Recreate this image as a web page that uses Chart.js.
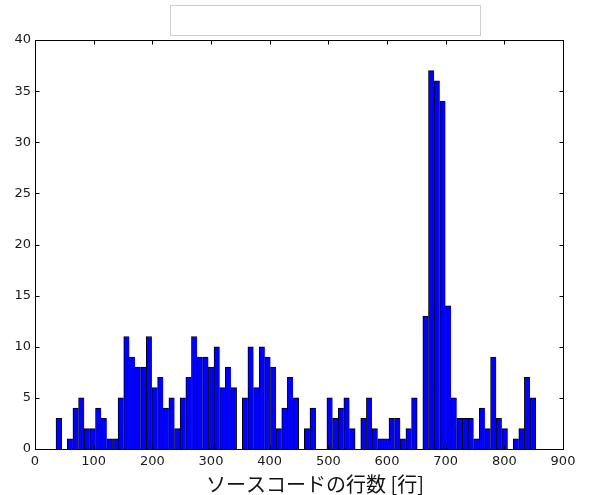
<!DOCTYPE html>
<html>
<head>
<meta charset="utf-8">
<script src="https://cdn.jsdelivr.net/npm/chart.js@4/dist/chart.umd.min.js"></script>
<style>
  html, body { margin: 0; padding: 0; background: #fff; }
</style>
</head>
<body>
<canvas id="chart" width="590" height="495"></canvas>
<script>
// histogram bins (uniform width), counts
const binStart = 35.8;
const binWidth = 9.62;
const counts = [
  3, 0, 1, 4, 5, 2, 2, 4, 3, 1,
  1, 5, 11, 9, 8, 8, 11, 6, 7, 4,
  5, 2, 5, 7, 11, 9, 9, 8, 10, 6,
  8, 6, 0, 5, 10, 6, 10, 9, 8, 2,
  4, 7, 5, 0, 2, 4, 0, 0, 5, 3,
  4, 5, 2, 0, 3, 5, 2, 1, 1, 3,
  3, 1, 2, 5, 0, 13, 37, 36, 34, 14,
  5, 3, 3, 3, 1, 4, 2, 9, 3, 2,
  0, 1, 2, 7, 5
];
const xTicks = [0, 100, 200, 300, 400, 500, 600, 700, 800, 900];
const yTicks = [0, 5, 10, 15, 20, 25, 30, 35, 40];
const xLabel = 'ソースコードの行数 [行]';

const bars = counts.map((c, i) => ({ x: binStart + (i + 0.5) * binWidth, y: c }));

// matplotlib-like frame, inward ticks, x label and the empty legend box
const framePlugin = {
  id: 'frame',
  afterDraw(chart) {
    const { ctx, chartArea: a, scales: { x, y } } = chart;
    ctx.save();
    ctx.strokeStyle = '#000';
    ctx.lineWidth = 1;
    const L = Math.round(a.left) + 0.5, R = Math.round(a.right) + 0.5;
    const T = Math.round(a.top) + 0.5, B = Math.round(a.bottom) + 0.5;
    ctx.strokeRect(L, T, R - L, B - T);
    ctx.beginPath();
    xTicks.forEach(v => {
      const px = Math.round(x.getPixelForValue(v)) + 0.5;
      ctx.moveTo(px, B); ctx.lineTo(px, B - 4);
      ctx.moveTo(px, T); ctx.lineTo(px, T + 4);
    });
    yTicks.forEach(v => {
      const py = Math.round(y.getPixelForValue(v)) + 0.5;
      ctx.moveTo(L, py); ctx.lineTo(L + 4, py);
      ctx.moveTo(R, py); ctx.lineTo(R - 4, py);
    });
    ctx.stroke();

    // x label (sits a little right of centre in the original)
    ctx.fillStyle = '#111';
    ctx.font = "20px 'Noto Sans CJK JP', 'DejaVu Sans'";
    ctx.textAlign = 'center';
    ctx.textBaseline = 'middle';
    ctx.fillText(xLabel, 315, 484);

    // legend box (no entries visible)
    ctx.fillStyle = '#fff';
    ctx.strokeStyle = '#cfcfcf';
    ctx.fillRect(170.5, 5.5, 310, 30);
    ctx.strokeRect(170.5, 5.5, 310, 30);
    ctx.restore();
  }
};

new Chart(document.getElementById('chart'), {
  type: 'bar',
  data: {
    datasets: [{
      data: bars,
      backgroundColor: '#0000ff',
      borderColor: '#000',
      // shared edges drawn once; closing edge where a run of bars ends
      borderWidth: c => ({
        left: 1, top: 1, bottom: 0,
        right: (counts[c.dataIndex + 1] || 0) === 0 ? 1 : 0
      }),
      borderSkipped: false,
      barPercentage: 1,
      categoryPercentage: 1
    }]
  },
  options: {
    responsive: false,
    animation: false,
    layout: { padding: { left: 0, right: 27, top: 40, bottom: 0 } },
    plugins: { legend: { display: false }, tooltip: { enabled: false } },
    scales: {
      x: {
        type: 'linear',
        min: 0,
        max: 900,
        offset: false,
        grid: { display: false, drawTicks: false },
        border: { display: false },
        afterBuildTicks: s => { s.ticks = xTicks.map(v => ({ value: v })); },
        afterFit: s => { s.height = 46; },
        ticks: {
          padding: 5,
          color: '#1a1a1a',
          font: { family: 'DejaVu Sans', size: 13 },
          maxRotation: 0
        }
      },
      y: {
        min: 0,
        max: 40,
        grid: { display: false, drawTicks: false },
        border: { display: false },
        afterBuildTicks: s => { s.ticks = yTicks.map(v => ({ value: v })); },
        afterFit: s => { s.width = 35; },
        ticks: {
          padding: 4,
          color: '#1a1a1a',
          font: { family: 'DejaVu Sans', size: 13 }
        }
      }
    }
  },
  plugins: [framePlugin]
});
</script>
</body>
</html>
